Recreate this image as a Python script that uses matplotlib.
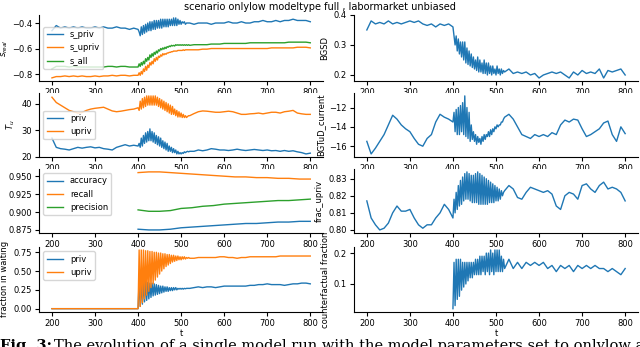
import matplotlib
matplotlib.use('Agg')
import matplotlib.pyplot as plt
import numpy as np

# sampling times: coarse before/after the switch, fine around it
t_pre = np.arange(200, 400, 10)
t_osc = np.arange(400, 520, 2.5)
t_post = np.arange(520, 801, 10)
t_all = np.concatenate([t_pre, t_osc, t_post])
t_late = np.concatenate([t_osc, t_post])
t_metric = np.arange(400, 801, 25)

s_priv = [-0.46, -0.42, -0.44, -0.43, -0.44, -0.43, -0.44, -0.43, -0.44, -0.44,
          -0.43, -0.44, -0.43, -0.44, -0.44, -0.43, -0.44, -0.44, -0.45, -0.44,
          -0.45, -0.47, -0.50, -0.43, -0.49, -0.42, -0.48, -0.41, -0.47, -0.40,
          -0.46, -0.39, -0.46, -0.39, -0.45, -0.38, -0.45, -0.38, -0.44, -0.38,
          -0.44, -0.37, -0.44, -0.37, -0.43, -0.37, -0.43, -0.37, -0.43, -0.37,
          -0.42, -0.37, -0.42, -0.36, -0.42, -0.36, -0.42, -0.37, -0.41, -0.38,
          -0.41, -0.39, -0.40, -0.39, -0.41, -0.40, -0.40, -0.40,
          -0.40, -0.41, -0.40, -0.40, -0.40, -0.41, -0.40, -0.40, -0.40, -0.39,
          -0.40, -0.40, -0.39, -0.40, -0.40, -0.39, -0.39, -0.38, -0.39, -0.39,
          -0.38, -0.39, -0.38, -0.38, -0.37, -0.38, -0.38, -0.38, -0.39]
s_upriv = [-0.83, -0.82, -0.82, -0.815, -0.82, -0.815, -0.82, -0.815, -0.82, -0.82,
           -0.815, -0.82, -0.815, -0.815, -0.81, -0.815, -0.81, -0.81, -0.815, -0.81,
           -0.81, -0.79, -0.81, -0.78, -0.80, -0.76, -0.78, -0.74, -0.77, -0.73,
           -0.75, -0.71, -0.73, -0.70, -0.72, -0.68, -0.70, -0.67, -0.69, -0.66,
           -0.67, -0.65, -0.66, -0.64, -0.65, -0.64, -0.645, -0.635, -0.635, -0.63,
           -0.63, -0.625, -0.625, -0.62, -0.62, -0.62, -0.62, -0.615, -0.615, -0.615,
           -0.615, -0.615, -0.61, -0.615, -0.61, -0.61, -0.61, -0.61,
           -0.61, -0.61, -0.61, -0.605, -0.605, -0.60, -0.60, -0.60, -0.60, -0.60,
           -0.60, -0.60, -0.60, -0.60, -0.60, -0.60, -0.60, -0.60, -0.60, -0.595,
           -0.595, -0.595, -0.595, -0.595, -0.595, -0.59, -0.59, -0.59, -0.595]
s_all = [-0.76, -0.74, -0.74, -0.74, -0.745, -0.74, -0.745, -0.745, -0.745, -0.745,
         -0.745, -0.745, -0.745, -0.74, -0.74, -0.745, -0.74, -0.74, -0.745, -0.745,
         -0.745, -0.72, -0.74, -0.71, -0.73, -0.70, -0.72, -0.68, -0.70, -0.67,
         -0.69, -0.65, -0.67, -0.64, -0.66, -0.63, -0.645, -0.62, -0.635, -0.61,
         -0.62, -0.60, -0.61, -0.595, -0.605, -0.59, -0.60, -0.585, -0.59, -0.58,
         -0.585, -0.575, -0.58, -0.575, -0.58, -0.57, -0.575, -0.57, -0.575, -0.57,
         -0.575, -0.57, -0.575, -0.57, -0.575, -0.57, -0.575, -0.57,
         -0.575, -0.57, -0.57, -0.57, -0.57, -0.565, -0.565, -0.565, -0.56, -0.56,
         -0.56, -0.56, -0.56, -0.56, -0.555, -0.555, -0.555, -0.555, -0.555, -0.555,
         -0.555, -0.555, -0.555, -0.55, -0.55, -0.55, -0.55, -0.55, -0.555]

tu_priv = [27, 23.5, 23, 22.8, 22.5, 23, 23.5, 23.2, 23.5, 23.7,
           23.3, 23.5, 23, 22.8, 22.5, 23.5, 24, 24.5, 24, 24.3,
           24, 25, 23.5, 27, 24, 28, 25, 29, 25.5, 29.5,
           26, 30.5, 26, 29.5, 25.5, 29, 25, 28, 24.5, 27.5,
           24, 27, 23.5, 26, 23, 25.5, 22.5, 25, 22, 24,
           22, 23.5, 21.5, 23, 21.5, 22.5, 21, 22, 21, 21.5,
           21, 21.5, 21.2, 21.8, 21.5, 21.8, 22, 21.8,
           22, 22, 22.5, 22.2, 22.5, 23, 22.8, 22.5, 22.5, 22.3,
           22.5, 22.8, 22.5, 22.3, 22.5, 22.7, 22.5, 22.3, 22.5, 22.2,
           22.3, 22, 22.3, 22, 22.2, 21.8, 21.5, 21, 21.3]
tu_upriv = [42.5, 40.5, 39.5, 38.5, 37.5, 37, 36.5, 36.7, 37.5, 38,
            38.3, 38.5, 38.7, 38, 37.3, 37, 37.2, 37.5, 37.8, 38,
            38.5, 37.5, 41, 38, 42, 38.5, 42.5, 39, 43, 39.5,
            43, 39.5, 43, 39.5, 43, 39.5, 43, 39.5, 42.5, 39,
            42, 38.5, 41.5, 38, 41, 37.5, 40.5, 37, 40, 36.5,
            39.5, 36, 39, 36, 38, 35.5, 37.5, 35, 37, 35,
            36.5, 34.8, 36, 34.8, 35.5, 34.8, 35.2, 35.5,
            35.5, 36.3, 37, 37.3, 37.2, 37, 36.8, 36.8, 37, 37.2,
            37, 36.5, 36, 36, 36.2, 36.3, 36.5, 36.2, 36.5, 36.8,
            36.8, 36.5, 37, 37.2, 37.5, 36.5, 36.2, 36, 36]

accuracy = [0.876, 0.875, 0.875, 0.876, 0.878, 0.879, 0.880, 0.881, 0.882,
            0.883, 0.884, 0.884, 0.885, 0.886, 0.886, 0.887, 0.887]
recall = [0.955, 0.956, 0.956, 0.955, 0.954, 0.953, 0.952, 0.951, 0.950,
          0.949, 0.949, 0.948, 0.948, 0.947, 0.947, 0.946, 0.946]
precision = [0.903, 0.901, 0.901, 0.902, 0.905, 0.906, 0.908, 0.909, 0.911,
             0.912, 0.913, 0.914, 0.915, 0.916, 0.916, 0.917, 0.918]

wait_priv = [0] * 20 + [
    0.0, 0.38, 0.03, 0.37, 0.06, 0.37, 0.09, 0.36, 0.11, 0.35,
    0.13, 0.34, 0.15, 0.34, 0.17, 0.33, 0.18, 0.32, 0.19, 0.31,
    0.20, 0.30, 0.21, 0.30, 0.22, 0.29, 0.23, 0.29, 0.23, 0.28,
    0.24, 0.28, 0.24, 0.28, 0.25, 0.28, 0.25, 0.27, 0.26, 0.27,
    0.26, 0.27, 0.26, 0.27, 0.265, 0.27, 0.27, 0.27,
    0.27, 0.28, 0.29, 0.28, 0.29, 0.29, 0.28, 0.29, 0.30, 0.30,
    0.30, 0.30, 0.30, 0.30, 0.31, 0.31, 0.32, 0.32, 0.33, 0.32,
    0.32, 0.32, 0.31, 0.32, 0.33, 0.33, 0.34, 0.34, 0.33]
wait_upriv = [0] * 20 + [
    0.0, 0.78, 0.03, 0.78, 0.08, 0.78, 0.13, 0.77, 0.18, 0.77,
    0.23, 0.76, 0.28, 0.76, 0.33, 0.75, 0.38, 0.75, 0.42, 0.74,
    0.46, 0.74, 0.50, 0.73, 0.53, 0.73, 0.56, 0.72, 0.58, 0.72,
    0.60, 0.71, 0.62, 0.71, 0.63, 0.70, 0.64, 0.70, 0.65, 0.69,
    0.65, 0.69, 0.66, 0.69, 0.66, 0.68, 0.67, 0.68,
    0.67, 0.67, 0.68, 0.68, 0.68, 0.68, 0.68, 0.69, 0.69, 0.68,
    0.68, 0.67, 0.68, 0.68, 0.69, 0.69, 0.69, 0.69, 0.69, 0.69,
    0.69, 0.70, 0.70, 0.70, 0.70, 0.70, 0.70, 0.70, 0.70]

bgsd = [0.35, 0.38, 0.37, 0.375, 0.37, 0.38, 0.37, 0.375, 0.37, 0.375,
        0.38, 0.375, 0.38, 0.37, 0.365, 0.37, 0.36, 0.37, 0.365, 0.37,
        0.36, 0.33, 0.30, 0.33, 0.28, 0.32, 0.27, 0.31, 0.26, 0.31,
        0.25, 0.31, 0.24, 0.29, 0.235, 0.28, 0.23, 0.27, 0.225, 0.26,
        0.22, 0.25, 0.215, 0.26, 0.21, 0.25, 0.21, 0.24, 0.205, 0.25,
        0.205, 0.24, 0.20, 0.24, 0.205, 0.23, 0.20, 0.23, 0.205, 0.22,
        0.20, 0.23, 0.205, 0.22, 0.20, 0.22, 0.205, 0.215,
        0.21, 0.22, 0.205, 0.21, 0.205, 0.21, 0.20, 0.205, 0.19, 0.20,
        0.205, 0.21, 0.205, 0.21, 0.20, 0.19, 0.21, 0.20, 0.215, 0.205,
        0.21, 0.205, 0.22, 0.19, 0.215, 0.21, 0.215, 0.22, 0.20]
bgtud_current = [-15.5, -16.8, -16.2, -15.5, -14.8, -13.8, -12.8, -13.2, -13.8, -14.2,
                 -14.5, -15.2, -15.8, -16.0, -15.2, -14.8, -13.5, -12.7, -13.0, -13.2,
                 -13.5, -12.5, -14.5, -12.2, -14.8, -12.0, -14.8, -11.8, -14.5, -11.5,
                 -14.8, -10.8, -15.0, -12.0, -15.2, -12.5, -15.5, -13.8, -15.3, -14.5,
                 -15.5, -14.8, -15.8, -15.0, -15.6, -15.2, -15.8, -15.0, -15.5, -14.8,
                 -15.3, -14.8, -15.0, -14.5, -15.0, -14.3, -14.8, -14.2, -14.5, -14.0,
                 -14.2, -13.8, -14.0, -13.8, -13.8, -13.5, -13.5, -13.2,
                 -13.0, -12.7, -13.2, -14.0, -14.8, -15.0, -15.2, -14.8, -15.0, -14.8,
                 -15.0, -14.6, -14.8, -13.8, -13.3, -13.5, -13.2, -13.3, -14.2, -15.0,
                 -14.8, -14.5, -14.2, -13.6, -13.4, -14.8, -15.5, -14.0, -14.7]
frac_upriv = [0.817, 0.807, 0.803, 0.800, 0.801, 0.804, 0.810, 0.814, 0.811, 0.811,
              0.812, 0.807, 0.803, 0.801, 0.803, 0.803, 0.807, 0.810, 0.815, 0.812,
              0.807, 0.818, 0.810, 0.822, 0.812, 0.826, 0.814, 0.829, 0.815, 0.831,
              0.817, 0.833, 0.818, 0.834, 0.818, 0.833, 0.817, 0.832, 0.816, 0.832,
              0.816, 0.833, 0.816, 0.834, 0.815, 0.833, 0.815, 0.832, 0.815, 0.831,
              0.815, 0.830, 0.815, 0.829, 0.816, 0.828, 0.816, 0.827, 0.816, 0.826,
              0.817, 0.825, 0.817, 0.824, 0.818, 0.823, 0.820, 0.822,
              0.823, 0.826, 0.824, 0.819, 0.818, 0.822, 0.825, 0.824, 0.823, 0.822,
              0.823, 0.821, 0.814, 0.812, 0.820, 0.822, 0.821, 0.818, 0.826, 0.827,
              0.824, 0.822, 0.826, 0.828, 0.824, 0.825, 0.824, 0.822, 0.817]
cf_fraction = [0.02, 0.17, 0.03, 0.18, 0.05, 0.18, 0.06, 0.18, 0.08, 0.17,
               0.09, 0.17, 0.10, 0.17, 0.11, 0.17, 0.12, 0.17, 0.12, 0.17,
               0.13, 0.18, 0.13, 0.18, 0.13, 0.19, 0.13, 0.19, 0.14, 0.19,
               0.13, 0.20, 0.14, 0.20, 0.13, 0.21, 0.14, 0.20, 0.13, 0.21,
               0.14, 0.21, 0.14, 0.21, 0.14, 0.19, 0.14, 0.18,
               0.15, 0.18, 0.15, 0.17, 0.15, 0.17, 0.16, 0.17, 0.16, 0.17,
               0.15, 0.16, 0.14, 0.16, 0.15, 0.16, 0.14, 0.16, 0.15, 0.16,
               0.15, 0.16, 0.15, 0.15, 0.14, 0.15, 0.14, 0.13, 0.15]

plt.rcParams['font.size'] = 6
plt.rcParams['xtick.labelsize'] = 6
plt.rcParams['ytick.labelsize'] = 6
plt.rcParams['legend.fontsize'] = 6
plt.rcParams['lines.linewidth'] = 1.0

fig = plt.figure(figsize=(6.4, 3.47), dpi=100)

rows = [(0.767, 0.190), (0.548, 0.184), (0.329, 0.184), (0.102, 0.186)]
left = [fig.add_axes([0.061, b, 0.444, h]) for b, h in rows]
right = [fig.add_axes([0.553, b, 0.444, h]) for b, h in rows]

ax = left[0]
ax.plot(t_all, s_priv, label='s_priv')
ax.plot(t_all, s_upriv, label='s_upriv')
ax.plot(t_all, s_all, label='s_all')
ax.set_ylabel('$s_{real}$')
ax.set_yticks([-0.8, -0.6, -0.4])
ax.legend(loc='center left')

ax = left[1]
ax.plot(t_all, tu_priv, label='priv')
ax.plot(t_all, tu_upriv, label='upriv')
ax.set_ylabel('$T_u$')
ax.set_yticks([20, 30, 40])
ax.legend(loc='center left')

ax = left[2]
ax.plot(t_metric, accuracy, label='accuracy')
ax.plot(t_metric, recall, label='recall')
ax.plot(t_metric, precision, label='precision')
ax.set_yticks([0.875, 0.9, 0.925, 0.95])
ax.legend(loc='upper left')

ax = left[3]
ax.plot(t_all, wait_priv, label='priv')
ax.plot(t_all, wait_upriv, label='upriv')
ax.set_ylabel('fraction in waiting')
ax.set_yticks([0, 0.25, 0.5, 0.75])
ax.legend(loc='upper left')

right[0].plot(t_all, bgsd)
right[0].set_ylabel('BGSD')
right[0].set_yticks([0.2, 0.3, 0.4])
right[1].plot(t_all, bgtud_current)
right[1].set_ylabel('BGTuD_current')
right[1].set_yticks([-16, -14, -12])
right[2].plot(t_all, frac_upriv)
right[2].set_ylabel('frac_upriv')
right[2].set_yticks([0.80, 0.81, 0.82, 0.83])
right[3].plot(t_late, cf_fraction)
right[3].set_ylabel('counterfactual fraction')
right[3].set_yticks([0.1, 0.2])

for ax in left + right:
    ax.set_xlim(170, 830)
    ax.set_xticks([200, 300, 400, 500, 600, 700, 800])
    ax.spines['top'].set_visible(False)
    ax.spines['right'].set_visible(False)
    ax.tick_params(pad=2, length=3)
    ax.yaxis.labelpad = 3

left[0].yaxis.labelpad = 1
left[3].set_xlabel('t', labelpad=1)
right[3].set_xlabel('t', labelpad=1)

fig.suptitle('scenario onlylow modeltype full , labormarket unbiased', fontsize=7, y=0.995)

# figure caption from the paper, cut by the bottom edge
fig.text(0.0, 1 - 350 / 347, 'Fig. 3:', family='DejaVu Serif', weight='bold',
         fontsize=10.5, va='baseline')
fig.text(0.085, 1 - 350 / 347,
         'The evolution of a single model run with the model parameters set to onlylow and full (including',
         family='DejaVu Serif', fontsize=10.5, va='baseline')

fig.savefig('out.png', dpi=100)
